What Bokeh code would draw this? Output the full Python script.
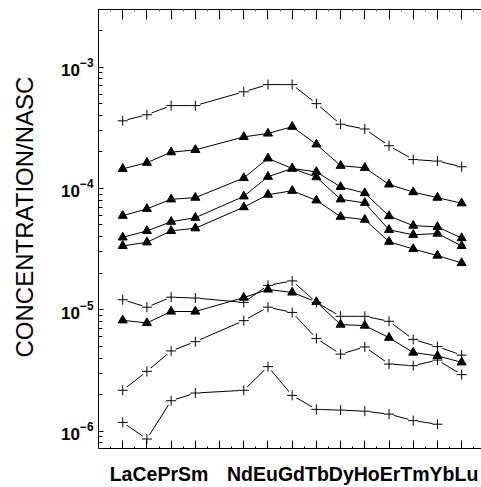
import numpy as np
from bokeh.plotting import figure
from bokeh.models import Range1d, LinearAxis, FixedTicker, CustomJSTickFormatter
from bokeh.embed import file_html
from bokeh.resources import INLINE

# ---- data -------------------------------------------------------------
elements = ["La", "Ce", "Pr", "Sm", "", "Nd", "Eu", "Gd", "Tb", "Dy", "Ho", "Er", "Tm", "Yb", "Lu"]
positions = [i + 1 for i, e in enumerate(elements) if e]

# cross series (lines broken at markers)
s1 = [3.61e-4, 4.05e-4, 4.82e-4, 4.82e-4, 6.26e-4, 7.18e-4, 7.18e-4, 5.00e-4, 3.38e-4, 3.09e-4, 2.25e-4, 1.73e-4, 1.68e-4, 1.51e-4]
s6 = [1.21e-5, 1.05e-5, 1.27e-5, 1.25e-5, 1.15e-5, 1.59e-5, 1.73e-5, 1.15e-5, 8.83e-6, 8.83e-6, 8.04e-6, 5.70e-6, 4.97e-6, 4.23e-6]
s8 = [2.17e-6, 3.11e-6, 4.58e-6, 5.46e-6, 8.14e-6, 1.05e-5, 9.51e-6, 5.81e-6, 4.31e-6, 4.94e-6, 3.57e-6, 3.46e-6, 3.85e-6, 2.92e-6]
s9 = [1.18e-6, 8.61e-7, 1.78e-6, 2.06e-6, 2.17e-6, 3.40e-6, 1.97e-6, 1.51e-6, 1.49e-6, 1.46e-6, 1.38e-6, 1.22e-6, 1.14e-6, np.nan]

# triangle series
s2 = [1.45e-4, 1.63e-4, 1.99e-4, 2.08e-4, 2.66e-4, 2.84e-4, 3.23e-4, 2.31e-4, 1.54e-4, 1.48e-4, 1.08e-4, 9.33e-5, 8.40e-5, 7.55e-5]
s3 = [5.96e-5, 6.79e-5, 8.14e-5, 8.40e-5, 1.22e-4, 1.77e-4, 1.46e-4, 1.37e-4, 1.03e-4, 9.16e-5, 5.92e-5, 4.94e-5, 4.82e-5, 3.90e-5]
s4 = [3.95e-5, 4.47e-5, 5.32e-5, 5.74e-5, 8.61e-5, 1.25e-4, 1.46e-4, 1.24e-4, 8.14e-5, 7.60e-5, 4.56e-5, 4.15e-5, 4.25e-5, 3.36e-5]
s5 = [3.36e-5, 3.60e-5, 4.47e-5, 4.70e-5, 7.01e-5, 8.89e-5, 9.57e-5, 7.98e-5, 5.85e-5, 5.53e-5, 3.64e-5, 3.17e-5, 2.80e-5, 2.43e-5]
s7 = [8.19e-6, 7.79e-6, 9.68e-6, 9.68e-6, 1.26e-5, 1.47e-5, 1.39e-5, 1.16e-5, 7.55e-6, 7.41e-6, 5.89e-6, 4.44e-6, 4.17e-6, 3.69e-6]

cross_series = [s1, s6, s8, s9]
tri_series = [s2, s3, s4, s5, s7]

y_title = "CONCENTRATION/NASC"
FONT = "Liberation Sans"

# ---- figure -----------------------------------------------------------
p = figure(width=481, height=487, y_axis_type="log",
           x_range=Range1d(0, 15.82), y_range=Range1d(7.19e-7, 2.985e-3),
           output_backend="svg", toolbar_location=None,
           min_border_left=98, min_border_right=0, min_border_top=9, min_border_bottom=34)
p.outline_line_color = None
p.xgrid.visible = False
p.ygrid.visible = False
p.background_fill_color = "white"
p.border_fill_color = "white"

xt = FixedTicker(ticks=list(range(1, 16)), minor_ticks=[i + 0.5 for i in range(0, 16)])

# bottom axis (ticks only)
xa = p.xaxis[0]
xa.ticker = xt
xa.major_tick_in = 8
xa.major_tick_out = 0
xa.minor_tick_in = 2
xa.minor_tick_out = 0
xa.major_label_text_color = None
xa.major_label_standoff = 0
xa.axis_line_color = "black"
xa.axis_line_width = 1

# bottom element names, written contiguously in two groups as in the source
g1 = "".join(elements[:4])
g2 = "".join(elements[5:])
c1 = float(np.mean(positions[:4]))
c2 = float(np.mean(positions[4:]))
names_axis = LinearAxis(ticker=FixedTicker(ticks=[c1, c2], minor_ticks=[]),
                        formatter=CustomJSTickFormatter(args=dict(a=g1, b=g2, split=5.0),
                                                        code="return tick < split ? a : b"),
                        major_tick_in=0, major_tick_out=0, minor_tick_in=0, minor_tick_out=0,
                        axis_line_color=None, major_label_standoff=14,
                        major_label_text_font=FONT, major_label_text_font_style="bold",
                        major_label_text_font_size="19.5px", major_label_text_color="black")
p.add_layout(names_axis, "below")

# left axis
ya = p.yaxis[0]
ya.major_tick_in = 5
ya.major_tick_out = 0
ya.minor_tick_in = 4
ya.minor_tick_out = 0
ya.major_label_text_font = FONT
ya.major_label_text_font_style = "bold"
ya.major_label_text_font_size = "17px"
ya.major_label_text_color = "black"
ya.major_label_standoff = 5
ya.axis_line_color = "black"
ya.axis_line_width = 1

# y title, a single label parallel to the axis
title_axis = LinearAxis(ticker=FixedTicker(ticks=[5.815e-5], minor_ticks=[]),
                        formatter=CustomJSTickFormatter(args=dict(t=y_title), code="return t"),
                        major_tick_in=0, major_tick_out=0, minor_tick_in=0, minor_tick_out=0,
                        axis_line_color=None, major_label_standoff=20,
                        major_label_orientation="parallel",
                        major_label_text_font=FONT, major_label_text_font_size="24px",
                        major_label_text_color="black")
p.add_layout(title_axis, "left")

# top axis (ticks only)
top = LinearAxis(ticker=xt, major_tick_in=10, major_tick_out=0, minor_tick_in=2, minor_tick_out=0,
                 major_label_text_color=None, major_label_standoff=0,
                 axis_line_color="black", axis_line_width=1, minor_tick_line_color="#777777")
p.add_layout(top, "above")

# lines
for s in cross_series + tri_series:
    p.line(positions, s, line_color="black", line_width=1)

# break lines around the cross markers
for s in cross_series:
    p.scatter(positions, s, marker="circle", size=10, fill_color="white", line_color=None)

for s in cross_series:
    p.scatter(positions, s, marker="cross", size=10, line_color="black", line_width=1)

for s in tri_series:
    p.scatter(positions, s, marker="triangle", size=9, fill_color="black", line_color="black")

open("out.html", "w").write(file_html(p, INLINE))
